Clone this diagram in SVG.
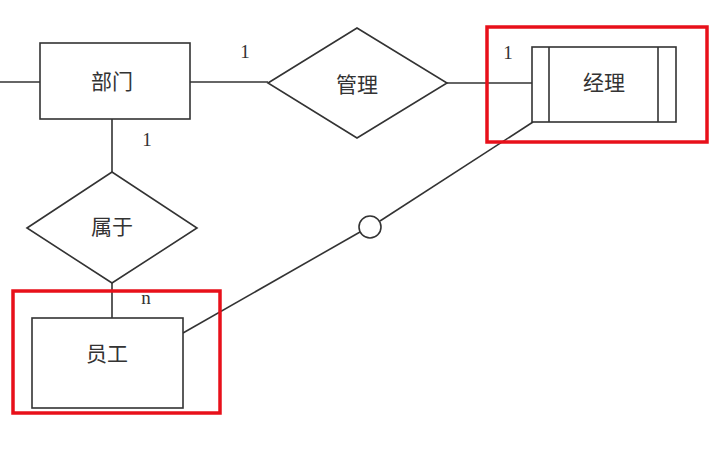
<svg xmlns="http://www.w3.org/2000/svg" width="724" height="466" viewBox="0 0 724 466">
<style>
.s{fill:#fff;stroke:#333;stroke-width:1.6}
.l{fill:none;stroke:#333;stroke-width:1.6}
.t{font-family:"Noto Sans CJK SC","Noto Sans CJK JP",sans-serif;font-size:21px;fill:#333;text-anchor:middle;dominant-baseline:central}
.c{font-family:"Liberation Serif",serif;font-size:19px;fill:#333;text-anchor:middle}
.r{fill:none;stroke:#e8101a;stroke-width:3.5}
</style>
<rect width="724" height="466" fill="#fff"/>
<g id="connectors">
<line class="l" x1="0" y1="82" x2="40" y2="82"/>
<line class="l" x1="190" y1="82" x2="268" y2="82"/>
<line class="l" x1="447" y1="83" x2="532" y2="83"/>
<line class="l" x1="112" y1="119" x2="112" y2="172"/>
<line class="l" x1="112" y1="283" x2="112" y2="318"/>
<line class="l" x1="183" y1="333" x2="360" y2="232"/>
<line class="l" x1="380" y1="221" x2="533" y2="122"/>
<circle class="s" cx="370" cy="227" r="11"/>
<text class="c" x="245" y="58">1</text>
<text class="c" x="147" y="146">1</text>
<text class="c" x="508" y="59">1</text>
<text class="c" x="146" y="304">n</text>
</g>
<g id="bumen">
<rect class="s" x="40" y="43" width="150" height="76"/>
<text class="t" x="112" y="80">部门</text>
</g>
<g id="guanli">
<polygon class="s" points="268,83 357,28 447,83 357,138"/>
<text class="t" x="357" y="83">管理</text>
</g>
<g id="jingli">
<rect class="s" x="532" y="47" width="144" height="75"/>
<line class="l" x1="549" y1="47" x2="549" y2="122"/>
<line class="l" x1="658" y1="47" x2="658" y2="122"/>
<text class="t" x="604" y="81">经理</text>
<rect class="r" x="487" y="27" width="220" height="115"/>
</g>
<g id="shuyu">
<polygon class="s" points="27,228 112,172 197,228 112,283"/>
<text class="t" x="112" y="225">属于</text>
</g>
<g id="yuangong">
<rect class="s" x="32" y="318" width="151" height="90"/>
<text class="t" x="107" y="352">员工</text>
<rect class="r" x="13" y="291" width="207" height="122"/>
</g>
</svg>
